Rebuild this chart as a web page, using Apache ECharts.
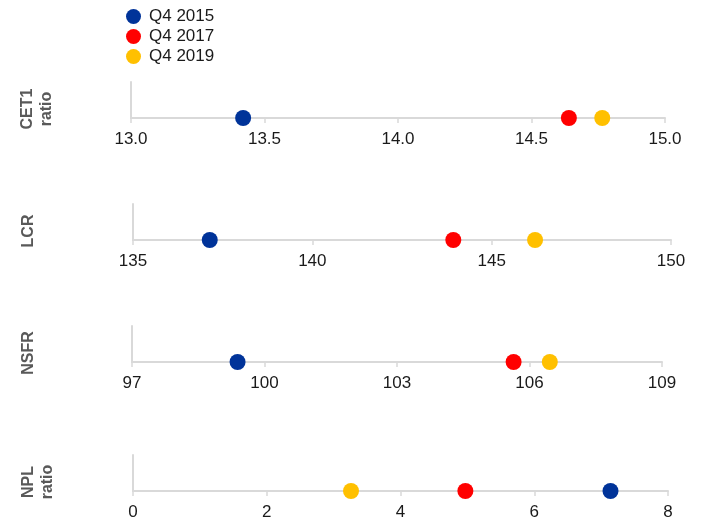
<!DOCTYPE html>
<html>
<head>
<meta charset="utf-8">
<script src="https://cdn.jsdelivr.net/npm/echarts@6/dist/echarts.min.js"></script>
<style>
  html, body { margin: 0; padding: 0; background: #fff; }
  #chart { width: 702px; height: 525px; }
</style>
</head>
<body>
<div id="chart"></div>
<script>
// legend names and colours
const periods = ['Q4 2015', 'Q4 2017', 'Q4 2019'];
const colors = ['#003399', '#ff0000', '#ffc000'];

// panel names (y axis titles)
const metrics = ['CET1\nratio', 'LCR', 'NSFR', 'NPL\nratio'];

// values per period, one entry per metric: CET1, LCR, NSFR, NPL
const q42015 = [13.42, 137.14, 99.39, 7.14];
const q42017 = [14.64, 143.93, 105.64, 4.97];
const q42019 = [14.765, 146.21, 106.46, 3.26];

// x axis ranges and ticks
const axisMin = [13, 135, 97, 0];
const axisMax = [15, 150, 109, 8];
const axisTicks = [
  [13, 13.5, 14, 14.5, 15],
  [135, 140, 145, 150],
  [97, 100, 103, 106, 109],
  [0, 2, 4, 6, 8]
];
const labelDigits = [1, 0, 0, 0];

const chart = echarts.init(document.getElementById('chart'));

// panel layout
const gridTops = [82, 204, 326, 455];
const gridLefts = [131, 133, 132, 133];
const gridRights = [37, 31, 40, 34];
const nameGaps = [75, 95, 94, 76];
const seriesValues = [q42015, q42017, q42019];

const font = 'Liberation Sans, Arial, sans-serif';
const grid = [], xAxis = [], yAxis = [], series = [];
metrics.forEach((m, i) => {
  grid.push({ left: gridLefts[i], right: gridRights[i], top: gridTops[i], height: 36 });
  xAxis.push({
    gridIndex: i,
    type: 'value',
    min: axisMin[i],
    max: axisMax[i],
    axisLine: { lineStyle: { color: '#d9d9d9', width: 2 } },
    axisTick: {
      show: true, length: 5, customValues: axisTicks[i],
      lineStyle: { color: '#d9d9d9', width: 1.5 }
    },
    axisLabel: {
      customValues: axisTicks[i],
      margin: 13,
      color: '#1a1a1a',
      fontSize: 17,
      fontFamily: font,
      formatter: v => Number(v).toFixed(labelDigits[i])
    },
    splitLine: { show: false }
  });
  yAxis.push({
    gridIndex: i,
    type: 'value',
    min: 0,
    max: 1,
    name: m,
    nameLocation: 'middle',
    nameRotate: 90,
    nameGap: nameGaps[i],
    nameTextStyle: {
      color: '#595959',
      fontWeight: 'bold',
      fontSize: 16,
      lineHeight: 19,
      fontFamily: font,
      padding: [0, 18, 0, 0]
    },
    axisLine: { show: true, lineStyle: { color: '#d9d9d9', width: 2 } },
    axisTick: { show: false },
    axisLabel: { show: false },
    splitLine: { show: false }
  });
  periods.forEach((p, k) => {
    series.push({
      name: p,
      type: 'scatter',
      xAxisIndex: i,
      yAxisIndex: i,
      symbolSize: 16,
      itemStyle: { color: colors[k], opacity: 1 },
      data: [[seriesValues[k][i], 0]],
      z: 10 + k
    });
  });
});

chart.setOption({
  animation: false,
  color: colors,
  legend: {
    orient: 'vertical',
    left: 126,
    top: 8,
    padding: 0,
    itemGap: 3,
    itemWidth: 15,
    itemHeight: 15,
    icon: 'circle',
    data: periods,
    textStyle: {
      color: '#1a1a1a',
      fontSize: 17,
      fontFamily: font,
      padding: [0, 0, 0, 3]
    }
  },
  grid, xAxis, yAxis, series
});
</script>
</body>
</html>
